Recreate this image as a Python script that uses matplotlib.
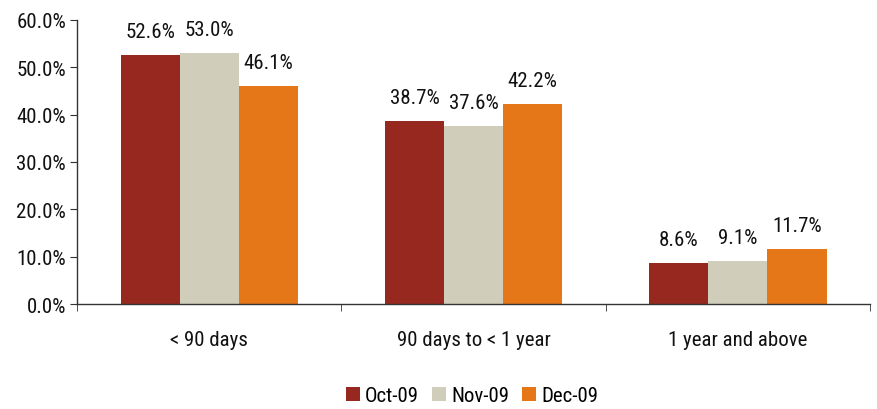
import matplotlib
matplotlib.use("Agg")
import matplotlib.pyplot as plt
import numpy as np
from matplotlib.ticker import FuncFormatter, FixedLocator

plt.rcParams['font.family'] = ['Roboto Condensed', 'DejaVu Sans']

categories = ["< 90 days", "90 days to < 1 year", "1 year and above"]
series = ["Oct-09", "Nov-09", "Dec-09"]
oct09 = [52.6, 38.7, 8.6]
nov09 = [53.0, 37.6, 9.1]
dec09 = [46.1, 42.2, 11.7]
colors = ["#97281F", "#D0CEBB", "#E57719"]

fig = plt.figure(figsize=(8.77, 4.10), dpi=100)
ax = fig.add_axes([0.088, 0.256, 0.904, 0.693])

x = np.arange(len(categories))
w = 0.224
for i, (vals, name, c) in enumerate(zip([oct09, nov09, dec09], series, colors)):
    pos = x + (i - 1) * w
    ax.bar(pos, vals, width=w, color=c, label=name, zorder=2)
    for xp, v in zip(pos, vals):
        ax.annotate(f"{v:.1f}%", (xp, v), xytext=(0, 10), textcoords="offset points",
                    ha="center", va="bottom", fontsize=15, color="#111111")

ax.set_xlim(-0.5, 2.5)
ax.set_ylim(0, 60)
ax.set_yticks(np.arange(0, 61, 10))
ax.yaxis.set_major_formatter(FuncFormatter(lambda v, p: f"{v:.1f}%"))
ax.set_xticks(x)
ax.set_xticklabels(categories)
ax.xaxis.set_minor_locator(FixedLocator([-0.5, 0.5, 1.5, 2.5]))
ax.tick_params(axis="x", which="major", length=0, pad=19, labelsize=15, labelcolor="#111111")
ax.tick_params(axis="x", which="minor", length=5, direction="out", color="#333333")
ax.tick_params(axis="y", length=5, direction="out", labelsize=15, color="#333333",
               labelcolor="#111111", pad=3)
for s in ["top", "right"]:
    ax.spines[s].set_visible(False)
for s in ["left", "bottom"]:
    ax.spines[s].set_color("#333333")
    ax.spines[s].set_linewidth(1.0)

fig.legend(loc="center", bbox_to_anchor=(0.538, 0.032), ncol=3, frameon=False,
           fontsize=15, handlelength=0.68, handleheight=0.68, handletextpad=0.25,
           columnspacing=0.6)

fig.savefig("out.png", dpi=100)
